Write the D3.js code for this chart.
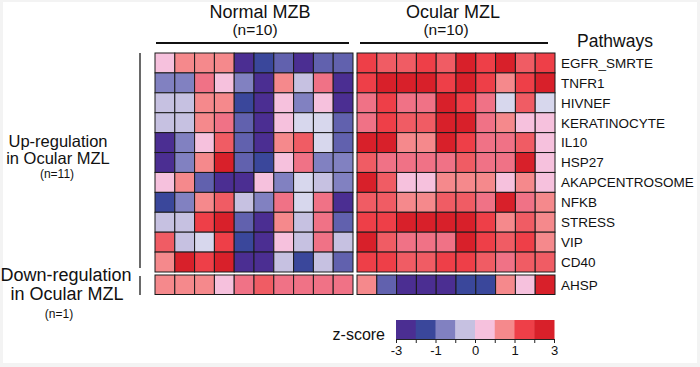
<!DOCTYPE html>
<html><head><meta charset="utf-8">
<script src="https://cdn.jsdelivr.net/npm/d3@7"></script>
<style>
html,body{margin:0;padding:0;background:#f3f3f3;}
svg{display:block;}
text{font-family:"Liberation Sans",Arial,sans-serif;fill:#111;}
</style></head>
<body>
<svg id="chart" width="700" height="367"></svg>
<script>
// ---- data ----
const upPathways = ["EGFR_SMRTE","TNFR1","HIVNEF","KERATINOCYTE","IL10","HSP27","AKAPCENTROSOME","NFKB","STRESS","VIP","CD40"];
const downPathways = ["AHSP"];
const normalSamples = ["N1","N2","N3","N4","N5","N6","N7","N8","N9","N10"];
const ocularSamples = ["O1","O2","O3","O4","O5","O6","O7","O8","O9","O10"];
const normalValues = [
  [0.2,0.7,0.7,0.7,-2.5,-2.1,-1.8,-2.5,-1.8,-1.8],
  [-1.5,-1.5,1.0,0.2,-1.5,-2.5,0.7,-0.8,1.0,-2.5],
  [-0.8,-0.8,0.7,0.7,-2.1,-2.5,0.2,-1.5,0.2,-2.5],
  [-0.8,-0.8,0.7,1.0,-1.8,-2.5,0.2,-0.4,-0.4,-1.8],
  [-2.5,-1.5,0.2,1.3,-1.8,-2.5,0.7,1.3,-0.4,-1.8],
  [-2.5,-1.5,0.7,2.4,-1.8,-2.1,0.2,1.0,-1.5,-1.5],
  [0.2,0.7,-1.8,-2.5,-2.5,0.2,-1.5,-0.4,-0.8,-1.5],
  [-2.1,-1.5,0.7,1.3,-0.8,-1.5,1.0,-0.4,1.0,-2.5],
  [-0.8,-0.8,1.7,2.4,-1.8,-2.5,0.7,-0.8,1.0,-1.8],
  [1.3,-0.8,-0.4,1.7,-2.1,-2.5,0.2,-0.8,1.0,-0.8],
  [0.7,2.4,1.7,2.4,-2.5,-2.5,-0.8,-2.1,-0.8,-1.8],
  [0.7,0.7,0.7,0.2,1.0,1.3,1.0,1.0,1.0,1.0]
];
const ocularValues = [
  [1.7,1.3,1.3,1.7,1.3,2.4,1.7,2.4,1.3,1.7],
  [1.7,2.4,2.4,2.4,1.7,2.4,1.7,0.7,1.7,2.4],
  [1.0,1.7,1.0,1.0,2.4,1.7,1.0,-0.4,1.3,-0.4],
  [1.0,1.7,1.3,1.3,2.4,2.4,1.0,0.7,0.2,0.2],
  [2.4,2.4,0.7,0.7,2.4,1.7,1.0,1.0,1.3,0.2],
  [1.3,1.0,1.0,1.0,1.0,1.3,1.0,1.0,2.4,0.2],
  [2.4,1.3,0.2,0.2,0.7,0.7,0.7,0.2,0.7,0.2],
  [1.3,1.3,0.7,0.7,1.3,1.3,1.0,2.4,1.0,0.7],
  [1.7,1.7,2.4,2.4,2.4,2.4,1.7,0.7,1.3,0.7],
  [2.4,1.3,1.0,1.0,1.0,2.4,1.7,1.3,1.7,0.7],
  [1.7,1.7,1.3,1.3,1.7,1.7,1.3,1.0,1.3,1.3],
  [0.7,-1.8,-2.5,-2.5,-2.5,-2.1,-2.1,0.7,0.2,2.4]
];
const colorStops = [-2.5,-2.1,-1.8,-1.5,-0.8,-0.4,0.2,0.7,1.0,1.3,1.7,2.4];
const colorRange = ["#4b2e92","#3a479b","#6161ae","#8181c1","#c6c1e1","#d7d7ed","#f6c1dd","#f5898c","#f07286","#f05c64","#ee3f48","#d8202a"];
const legendBreaks = [-3,-2,-1,-0.5,0,0.5,1,2,3];
const legendSwatchValues = [-2.5,-2.1,-1.5,-0.8,0.2,0.7,1.7,2.4];
const legendTickLabels = {"-3":"-3","-1":"-1","0":"0","1":"1","3":"3"};

// ---- drawing ----
const svg = d3.select("#chart");
svg.append("rect").attr("x",3).attr("y",2).attr("width",694).attr("height",361).attr("fill","#fff");

const color = d3.scaleLinear().domain(colorStops).range(colorRange).clamp(true);
const xN = d3.scaleBand().domain(normalSamples).range([155,353]);
const xO = d3.scaleBand().domain(ocularSamples).range([357,555]);
const yUp = d3.scaleBand().domain(upPathways).range([53,272]);
const yDown = d3.scaleBand().domain(downPathways).range([275,294.5]);
const allPathways = upPathways.concat(downPathways);
const yOf = p => upPathways.includes(p) ? yUp(p) : yDown(p);
const hOf = p => upPathways.includes(p) ? yUp.bandwidth() : yDown.bandwidth();

function drawBlock(values, samples, xs){
  const cells = [];
  values.forEach((row,i)=>row.forEach((v,j)=>cells.push({p:allPathways[i], s:samples[j], v})));
  svg.append("g").selectAll("rect").data(cells).join("rect")
    .attr("x",d=>xs(d.s)).attr("y",d=>yOf(d.p))
    .attr("width",xs.bandwidth()).attr("height",d=>hOf(d.p))
    .attr("fill",d=>color(d.v))
    .attr("stroke","#1a1a1a").attr("stroke-width",1);
}
drawBlock(normalValues, normalSamples, xN);
drawBlock(ocularValues, ocularSamples, xO);

// group headers
const headers = [
  {t:"Normal MZB", n:"(n=10)", cx:260, ncx:255, x1:156, x2:349},
  {t:"Ocular MZL", n:"(n=10)", cx:453, ncx:446, x1:360, x2:548}
];
headers.forEach(h=>{
  svg.append("text").attr("x",h.cx).attr("y",17.5).attr("text-anchor","middle").style("font-size","18px").text(h.t);
  svg.append("text").attr("x",h.ncx).attr("y",34.5).attr("text-anchor","middle").style("font-size","15.5px").text(h.n);
  svg.append("line").attr("x1",h.x1).attr("x2",h.x2).attr("y1",43).attr("y2",43).attr("stroke","#111").attr("stroke-width",1.8);
});

svg.append("text").attr("x",615).attr("y",47).attr("text-anchor","middle").style("font-size","17.5px").text("Pathways");

// row labels
svg.append("g").selectAll("text").data(allPathways).join("text")
  .attr("x",561).attr("y",d=>yOf(d)+hOf(d)/2).attr("dy","0.36em")
  .style("font-size","13.5px").text(d=>d);

// left group labels
svg.append("line").attr("x1",140).attr("x2",140).attr("y1",53).attr("y2",268).attr("stroke","#444").attr("stroke-width",1.6);
svg.append("line").attr("x1",140).attr("x2",140).attr("y1",276).attr("y2",295).attr("stroke","#444").attr("stroke-width",1.6);
const lbl = (x,y,size,t)=>svg.append("text").attr("x",x).attr("y",y).attr("text-anchor","middle").style("font-size",size).text(t);
lbl(58,147,"16.5px","Up-regulation");
lbl(58,163.5,"16.5px","in Ocular MZL");
lbl(57,178,"12px","(n=11)");
lbl(66,281,"18px","Down-regulation");
lbl(67,299.5,"18px","in Ocular MZL");
lbl(59,318,"12px","(n=1)");

// legend
const lx = d3.scalePoint().domain(legendBreaks.map(String)).range([396,554]);
const swatches = legendSwatchValues.map((v,i)=>({v, a:String(legendBreaks[i]), b:String(legendBreaks[i+1])}));
svg.append("g").selectAll("rect").data(swatches).join("rect")
  .attr("x",d=>lx(d.a)).attr("y",320).attr("width",d=>lx(d.b)-lx(d.a)+0.5).attr("height",19)
  .attr("fill",d=>color(d.v));
const axis = d3.axisBottom(lx).tickSize(4).tickSizeOuter(0).tickFormat(d=>legendTickLabels[d]||"");
const ag = svg.append("g").attr("transform","translate(0,339)").call(axis);
ag.select(".domain").attr("stroke","#222").attr("stroke-width",1.2);
ag.selectAll(".tick line").attr("stroke","#222");
ag.selectAll(".tick text").attr("y",7).style("font-size","13px").style("font-family","'Liberation Sans',Arial,sans-serif").attr("fill","#111");
svg.append("text").attr("x",385).attr("y",340).attr("text-anchor","end").style("font-size","16px").text("z-score");
</script>
</body></html>
